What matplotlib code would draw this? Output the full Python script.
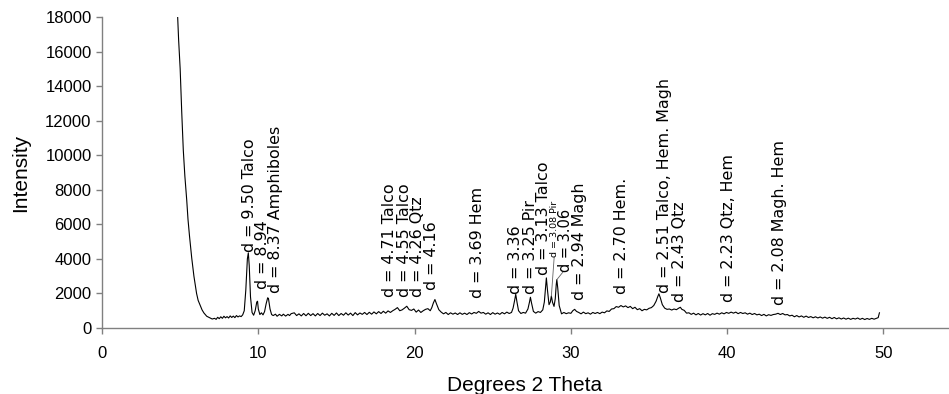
import matplotlib
matplotlib.use("Agg")
import matplotlib.pyplot as plt

plt.rcParams["font.family"] = ["Liberation Sans", "DejaVu Sans"]

# X-ray diffractogram (Cu K-alpha), degrees 2-theta vs counts
two_theta = [
    4.84, 4.90, 5.00, 5.10, 5.20, 5.30, 5.42, 5.50, 5.60, 5.74, 5.88, 6.05, 6.15, 6.27,
    6.40, 6.52, 6.70, 6.91, 7.05, 7.20, 7.30, 7.40, 7.50, 7.60, 7.70, 7.80, 7.90, 8.00,
    8.10, 8.20, 8.30, 8.40, 8.50, 8.60, 8.70, 8.80, 8.90, 9.00, 9.10, 9.20, 9.30, 9.36,
    9.42, 9.50, 9.60, 9.70, 9.80, 9.90, 9.95, 10.00, 10.10, 10.20, 10.30, 10.40, 10.50,
    10.60, 10.65, 10.75, 10.85, 10.95, 11.10, 11.20, 11.35, 11.50, 11.60, 11.75, 11.90,
    12.00, 12.10, 12.30, 12.45, 12.60, 12.75, 12.90, 13.05, 13.20, 13.35, 13.50, 13.65,
    13.80, 13.95, 14.10, 14.25, 14.40, 14.55, 14.70, 14.85, 15.00, 15.15, 15.30, 15.45,
    15.60, 15.75, 15.90, 16.05, 16.20, 16.35, 16.50, 16.65, 16.80, 16.95, 17.10, 17.25,
    17.40, 17.55, 17.70, 17.85, 18.00, 18.15, 18.30, 18.45, 18.60, 18.75, 18.90, 19.05,
    19.20, 19.35, 19.50, 19.65, 19.80, 19.95, 20.10, 20.25, 20.40, 20.55, 20.70, 20.85,
    21.00, 21.10, 21.20, 21.30, 21.40, 21.55, 21.70, 21.85, 22.00, 22.15, 22.30, 22.45,
    22.60, 22.75, 22.90, 23.05, 23.20, 23.35, 23.50, 23.65, 23.80, 23.95, 24.10, 24.25,
    24.40, 24.55, 24.70, 24.85, 25.00, 25.15, 25.30, 25.45, 25.60, 25.75, 25.90, 26.05,
    26.20, 26.30, 26.40, 26.47, 26.55, 26.65, 26.80, 26.95, 27.10, 27.25, 27.35, 27.41,
    27.48, 27.60, 27.75, 27.90, 28.05, 28.20, 28.30, 28.38, 28.43, 28.50, 28.60, 28.68,
    28.75, 28.82, 28.92, 29.00, 29.06, 29.10, 29.16, 29.25, 29.40, 29.55, 29.70, 29.85,
    30.00, 30.12, 30.24, 30.36, 30.50, 30.65, 30.80, 30.95, 31.10, 31.25, 31.40, 31.55,
    31.70, 31.85, 32.00, 32.15, 32.30, 32.45, 32.60, 32.75, 32.90, 33.05, 33.20, 33.35,
    33.50, 33.65, 33.80, 33.95, 34.10, 34.25, 34.40, 34.55, 34.70, 34.85, 35.00, 35.15,
    35.30, 35.45, 35.55, 35.63, 35.72, 35.85, 36.00, 36.15, 36.30, 36.45, 36.60, 36.75,
    36.90, 37.00, 37.10, 37.25, 37.40, 37.55, 37.70, 37.85, 38.00, 38.15, 38.30, 38.45,
    38.60, 38.75, 38.90, 39.05, 39.20, 39.35, 39.50, 39.65, 39.80, 39.95, 40.10, 40.25,
    40.40, 40.55, 40.70, 40.85, 41.00, 41.15, 41.30, 41.45, 41.60, 41.75, 41.90, 42.05,
    42.20, 42.35, 42.50, 42.65, 42.80, 42.95, 43.10, 43.25, 43.40, 43.55, 43.70, 43.85,
    44.00, 44.15, 44.30, 44.45, 44.60, 44.75, 44.90, 45.05, 45.20, 45.35, 45.50, 45.65,
    45.80, 45.95, 46.10, 46.25, 46.40, 46.55, 46.70, 46.85, 47.00, 47.15, 47.30, 47.45,
    47.60, 47.75, 47.90, 48.05, 48.20, 48.35, 48.50, 48.65, 48.80, 48.95, 49.10, 49.25,
    49.40, 49.55, 49.66, 49.74,
]

intensity = [
    18000, 16700, 15000, 12500, 10300, 8800, 7400, 6300, 5300, 4050, 3000, 2000, 1600, 1330,
    1050, 870, 680, 580, 520, 560, 500, 620, 540, 650, 560, 680, 590, 660,
    580, 700, 610, 690, 600, 720, 640, 700, 660, 760, 1000, 2200, 4000, 4350,
    3600, 1800, 900, 740, 1000, 1500, 1550, 1100, 780, 880, 760, 950, 1400,
    1750, 1700, 1100, 780, 720, 800, 680, 790, 700, 800, 690, 790,
    720, 830, 880, 720, 820, 700, 840, 710, 850, 720, 830, 700,
    840, 720, 860, 740, 820, 700, 850, 730, 870, 720, 840, 740,
    880, 750, 860, 720, 890, 760, 870, 790, 900, 780, 910, 800,
    930, 820, 950, 840, 970, 860, 990, 900, 1000, 1080, 1180, 1000,
    1050, 1150, 1260, 1060, 1020, 1100, 920, 1040, 900, 1000, 1080, 1120,
    1000, 1180, 1450, 1650, 1400, 1060, 920, 820, 900, 780, 880, 800,
    870, 780, 880, 790, 860, 780, 890, 810, 900, 850, 960, 860,
    900, 800, 880, 780, 890, 800, 870, 790, 900, 820, 920, 840,
    900, 1150, 1600, 1950, 1500, 1000, 840, 900, 860, 1100, 1500, 1780,
    1450, 960, 860, 950, 900, 1050, 1500, 2400, 2900, 2200, 1350, 1500,
    1850, 1500, 1250, 1700, 2500, 2800, 2300, 1300, 820, 900, 830, 880,
    850, 1000, 1080, 960, 900, 820, 920, 830, 880, 800, 900, 840,
    900, 830, 920, 880, 990, 960, 1100, 1120, 1240, 1200, 1300, 1220,
    1280, 1180, 1250, 1120, 1200, 1060, 1120, 1000, 1080, 1050, 1140, 1180,
    1300, 1550, 1800, 1980, 1750, 1350, 1150, 1080, 1100, 1040, 1100, 1060,
    1150, 1200, 1080, 1020, 860, 880, 790, 860, 760, 840, 750, 830,
    760, 840, 740, 830, 790, 860, 800, 880, 820, 900, 850, 920,
    860, 920, 830, 900, 840, 880, 800, 860, 780, 840, 760, 800,
    720, 790, 700, 770, 730, 780, 800, 850, 780, 840, 760, 780,
    700, 740, 650, 720, 640, 700, 620, 690, 610, 660, 590, 650,
    580, 640, 570, 630, 560, 620, 540, 610, 530, 590, 520, 580,
    510, 570, 500, 560, 520, 580, 500, 560, 490, 550, 500, 560,
    510, 560, 600, 880,
]

# Peak assignments: text, anchor 2-theta, anchor intensity, font size
label_text = [
    "d = 9.50 Talco", "d = 8.94", "d = 8.37 Amphiboles",
    "d = 4.71 Talco", "d = 4.55 Talco", "d = 4.26 Qtz", "d = 4.16",
    "d = 3.69 Hem", "d = 3.36", "d = 3.25 Pir", "d = 3.13 Talco",
    "d = 3.08 Pir", "d = 3.06", "d = 2.94 Magh", "d = 2.70 Hem.",
    "d = 2.51 Talco, Hem. Magh", "d = 2.43 Qtz", "d = 2.23 Qtz, Hem",
    "d = 2.08 Magh. Hem",
]
label_x = [9.45, 10.26, 11.12, 18.41, 19.33, 20.17, 21.08, 24.0, 26.47, 27.4,
           28.26, 28.96, 29.68, 30.55, 33.25, 36.0, 36.96, 40.09, 43.35]
label_y = [4420, 2250, 2040, 1780, 1780, 1780, 2200, 1740, 1970, 1970,
           3070, 4110, 3240, 1620, 1970, 2030, 1520, 1520, 1330]
label_size = [11.4] * 11 + [6.8, 10.5] + [11.4] * 6

fig = plt.figure(figsize=(9.49, 3.94), dpi=100)
ax = fig.add_axes([0.1075, 0.1675, 0.891, 0.7893])

ax.plot(two_theta, intensity, color="black", linewidth=0.8)

for txt, x, y, s in zip(label_text, label_x, label_y, label_size):
    ax.text(x, y, txt, rotation=90, ha="center", va="bottom", fontsize=s,
            color="black", family="DejaVu Sans")

# leader lines for the two crowded reflections near 29 degrees
ax.plot([28.75, 28.93], [1850, 4100], color="#606060", linewidth=0.6)
ax.plot([29.12, 29.5], [2820, 3250], color="#606060", linewidth=0.6)

ax.set_xlim(0, 54.1)
ax.set_ylim(0, 18000)
ax.set_xticks(range(0, 51, 10))
ax.set_yticks(range(0, 18001, 2000))

for side in ("top", "right"):
    ax.spines[side].set_visible(False)
for side in ("left", "bottom"):
    ax.spines[side].set_color("#808080")
    ax.spines[side].set_linewidth(1.0)
ax.tick_params(axis="both", colors="#808080", labelcolor="black",
               labelsize=12, length=4, width=1.0)
ax.tick_params(axis="x", pad=9)

ax.set_xlabel("Degrees 2 Theta", fontsize=15, labelpad=11)
ax.set_ylabel("Intensity", fontsize=15, labelpad=11)

fig.savefig("out.png", dpi=100)
